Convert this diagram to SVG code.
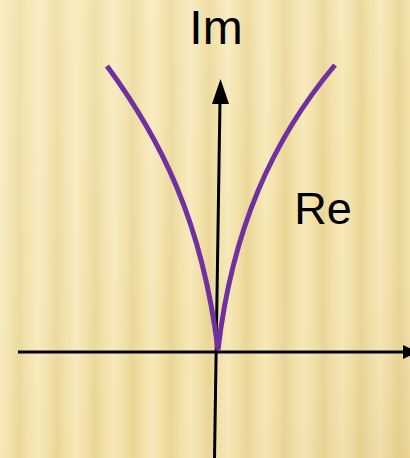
<svg xmlns="http://www.w3.org/2000/svg" width="410" height="458" viewBox="0 0 410 458">
  <defs>
    <linearGradient id="stripes" x1="0" y1="0" x2="19" y2="0" gradientUnits="userSpaceOnUse" spreadMethod="reflect">
      <stop offset="0" stop-color="#F6E8B8"/>
      <stop offset="0.5" stop-color="#F2E0A6"/>
      <stop offset="1" stop-color="#E9D595"/>
    </linearGradient>
    <linearGradient id="shade" x1="0" y1="0" x2="1" y2="1">
      <stop offset="0" stop-color="#FFF8DC" stop-opacity="0.35"/>
      <stop offset="0.6" stop-color="#FFFFFF" stop-opacity="0"/>
      <stop offset="1" stop-color="#C8A860" stop-opacity="0.2"/>
    </linearGradient>
    <style>
      .axis { stroke: #000; stroke-width: 3; fill: none; }
      .curve { stroke: #7030A0; stroke-width: 5; fill: none; stroke-linecap: butt; stroke-linejoin: miter; }
      .lbl { font-family: "Liberation Sans", Arial, sans-serif; fill: #000; }
    </style>
  </defs>
  <rect width="410" height="458" fill="url(#stripes)"/>
  <rect width="410" height="458" fill="url(#shade)"/>
  <g id="connectors">
    <line class="axis" x1="18" y1="352" x2="404" y2="352"/>
    <polygon points="418,352 403,345 403,359" fill="#000"/>
    <line class="axis" x1="214.5" y1="458" x2="220" y2="100"/>
    <polygon points="220.5,79 212,104 229,104" fill="#000"/>
  </g>
  <g id="curve">
    <path class="curve" d="M107,66 C160,138 202,220 218,350 C232,230 272,140 335,65"/>
  </g>
  <g id="label-im">
    <text class="lbl" x="216" y="44" font-size="48" text-anchor="middle">Im</text>
  </g>
  <g id="label-re">
    <text class="lbl" x="323" y="224" font-size="45" text-anchor="middle">Re</text>
  </g>
</svg>
